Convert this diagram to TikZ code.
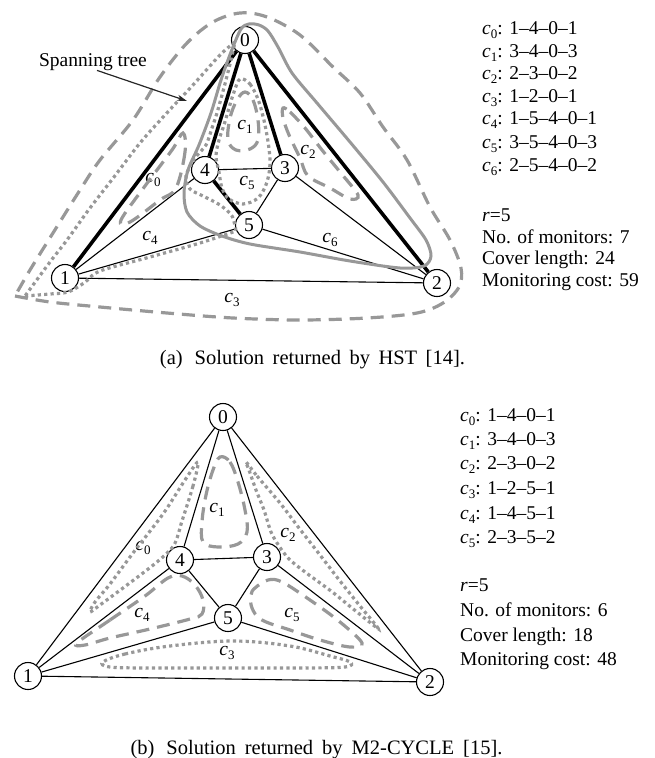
\documentclass[tikz,border=0pt]{standalone}
\usepackage{fontspec}
\setmainfont{Liberation Serif}
\usetikzlibrary{arrows.meta}
\definecolor{loopgray}{RGB}{152,152,152}
\newcommand{\csub}[1]{\textit{c}\raisebox{-3.5pt}{\fontsize{13}{13}\selectfont #1}}
\begin{document}
\begin{tikzpicture}[x=1pt,y=-1pt,
  font=\fontsize{19.5}{23}\selectfont,
  vtx/.style={circle,draw,fill=white,line width=1.1pt,minimum size=27pt,inner sep=0pt},
  lnk/.style={line width=1.1pt},
  trk/.style={line width=3.6pt},
  lbl/.style={inner sep=0pt},
  txt/.style={anchor=base west,inner sep=0pt},
  captxt/.style={anchor=base,inner sep=0pt,font=\fontsize{20.5}{24}\selectfont},
  gl/.style={draw=loopgray,line width=3.2pt},
  dsh/.style={gl,dash pattern=on 13pt off 8pt},
  dtt/.style={gl,dash pattern=on 3.2pt off 3.2pt},
  sld/.style={gl,line width=3pt},
  arr/.style={-{Stealth[length=10pt,width=6pt]},line width=1.2pt,draw=black!85},
]
\useasboundingbox (0,0) rectangle (654,758);

% ================= (a) =================
\node[vtx] (a0) at (245,40) {0};
\node[vtx] (a1) at (65,278) {1};
\node[vtx] (a2) at (437,283) {2};
\node[vtx] (a3) at (285,168) {3};
\node[vtx] (a4) at (205,170) {4};
\node[vtx] (a5) at (249,225) {5};

\draw[trk] (a0) -- (a1);
\draw[trk] (a0) -- (a4);
\draw[trk] (a0) -- (a3);
\draw[trk] (a0) -- (a2);
\draw[trk] (a4) -- (a5);
\draw[lnk] (a4) -- (a3);
\draw[lnk] (a3) -- (a5);
\draw[lnk] (a1) -- (a4);
\draw[lnk] (a1) -- (a5);
\draw[lnk] (a5) -- (a2);
\draw[lnk] (a3) -- (a2);
\draw[lnk] (a1) -- (a2);

\node[lbl] (la0) at (153,180) {\csub{0}};
\node[lbl] (la1) at (245,127) {\csub{1}};
\node[lbl] (la2) at (308,152) {\csub{2}};
\node[lbl] (la3) at (232,300) {\csub{3}};
\node[lbl] (la4) at (150,238) {\csub{4}};
\node[lbl] (la5) at (247,183) {\csub{5}};
\node[lbl] (la6) at (330,240) {\csub{6}};

% c3 outer dashed
\draw[dsh] plot[smooth,tension=0.55] coordinates {(15,296) (50,302) (100,307) (167,313) (233,318) (300,320) (367,318) (417,313) (443,303) (459,287) (461,268) (450,240) (430,207) (407,160) (383,127) (360,93) (333,67) (300,35) (267,17) (240,13) (213,22) (187,43) (160,77) (133,120) (100,160) (80,190) (53,233) (30,270) (15,296)};
% c4 dotted
\draw[dtt] plot[smooth,tension=0.5] coordinates {(25,296) (50,294) (68,292) (84,283) (100,271) (150,257) (200,243) (236,231)}
  -- plot[smooth,tension=0.5] coordinates {(236,231) (232,216) (220,205) (203,196) (190,189) (186,176) (195,158) (206,145) (212,128) (217,113) (222,95) (226,80) (231,60) (235,42)}
  -- plot[smooth,tension=0.5] coordinates {(235,42) (220,55) (193,85) (165,115) (140,143) (114,177) (90,208) (67,240) (50,262) (25,296)};
% c0 dashed
\draw[dsh] plot[smooth cycle,tension=0.6] coordinates {(183,133) (185,152) (176,188) (160,200) (130,222) (121,220) (145,186) (172,150)};
% c1 dashed
\draw[dsh] plot[smooth cycle,tension=0.6] coordinates {(245,92) (253,100) (258,120) (258,140) (250,149) (236,150) (228,140) (230,118) (237,100)};
% c5 dotted
\draw[dtt] plot[smooth cycle,tension=0.55] coordinates {(240,79) (250,84) (259,102) (266,130) (270,160) (267,182) (258,198) (243,204) (229,199) (222,188) (219,172) (216,156) (219,140) (224,125) (229,108) (234,92)};
% c2 dashed
\draw[dsh] plot[smooth cycle,tension=0.55] coordinates {(283,108) (290,112) (305,128) (322,150) (340,172) (358,195) (350,199) (330,188) (308,176) (300,158) (289,135) (283,118)};
% c6 solid
\draw[sld] plot[smooth cycle,tension=0.5] coordinates {(241,29) (249,24) (259,25) (268,31) (278,47) (292,73) (317,103) (350,142) (383,182) (410,218) (426,240) (431,256) (424,266) (400,268) (350,261) (300,252) (250,244) (222,236) (200,226) (187,212) (184,193) (188,170) (199,145) (211,113) (221,80) (231,52)};

\node[anchor=base,inner sep=0pt] (st) at (93,66) {Spanning tree};
\coordinate (sttip) at (187,101);
\draw[arr] ([xshift=4pt]st.south) -- (sttip);

\node[txt] (ta0) at (482,34.5) {\csub{0}: 1–4–0–1};
\node[txt] (ta1) at (482,57.5) {\csub{1}: 3–4–0–3};
\node[txt] (ta2) at (482,79.5) {\csub{2}: 2–3–0–2};
\node[txt] (ta3) at (482,102.5) {\csub{3}: 1–2–0–1};
\node[txt] (ta4) at (482,124.5) {\csub{4}: 1–5–4–0–1};
\node[txt] (ta5) at (482,148.5) {\csub{5}: 3–5–4–0–3};
\node[txt] (ta6) at (482,171.5) {\csub{6}: 2–5–4–0–2};
\node[txt] (ra0) at (482,221.5) {\textit{r}=5};
\node[txt] (ra1) at (482,243.5) {No. of monitors: 7};
\node[txt] (ra2) at (482,264.5) {Cover length: 24};
\node[txt] (ra3) at (482,286.5) {Monitoring cost: 59};

\node[captxt] (capa) at (312.5,364) {\spaceskip=8.5pt\relax(a)\hspace{12pt}Solution returned by HST [14].};

% ================= (b) =================
\node[vtx] (b0) at (223,417) {0};
\node[vtx] (b1) at (28,676) {1};
\node[vtx] (b2) at (430,682) {2};
\node[vtx] (b3) at (267,557) {3};
\node[vtx] (b4) at (180,560) {4};
\node[vtx] (b5) at (228,618) {5};

\draw[lnk] (b0) -- (b1);
\draw[lnk] (b0) -- (b4);
\draw[lnk] (b0) -- (b3);
\draw[lnk] (b0) -- (b2);
\draw[lnk] (b4) -- (b3);
\draw[lnk] (b4) -- (b5);
\draw[lnk] (b3) -- (b5);
\draw[lnk] (b1) -- (b4);
\draw[lnk] (b1) -- (b5);
\draw[lnk] (b5) -- (b2);
\draw[lnk] (b3) -- (b2);
\draw[lnk] (b1) -- (b2);

\node[lbl] (lb0) at (143,548) {\csub{0}};
\node[lbl] (lb1) at (217,510) {\csub{1}};
\node[lbl] (lb2) at (288,535) {\csub{2}};
\node[lbl] (lb3) at (227,653) {\csub{3}};
\node[lbl] (lb4) at (142,615) {\csub{4}};
\node[lbl] (lb5) at (292,615) {\csub{5}};

% c1 dashed
\draw[dsh] plot[smooth cycle,tension=0.6] coordinates {(220,457) (230,462) (238,482) (245,510) (247,532) (238,544) (218,547) (203,542) (202,522) (206,495) (213,470)};
% c0 dotted
\draw[dtt] plot[smooth cycle,tension=0.5] coordinates {(198,462) (193,486) (182,521) (174,545) (157,562) (127,585) (100,605) (90,612) (95,602) (110,584) (133,553) (163,514) (185,480)};
% c2 dotted
\draw[dtt] plot[smooth cycle,tension=0.5] coordinates {(246,462) (257,476) (280,503) (299,528) (320,555) (340,581) (360,606) (378,628) (372,624) (352,608) (331,591) (305,572) (289,559) (279,546) (271,532) (264,510) (256,490) (249,470)};
% c4 dashed
\draw[dsh] plot[smooth cycle,tension=0.6] coordinates {(77,643) (110,620) (145,596) (168,578) (182,576) (195,585) (203,600) (202,614) (190,619) (150,629) (110,638) (85,645)};
% c5 dashed
\draw[dsh] plot[smooth cycle,tension=0.6] coordinates {(255,588) (268,580) (282,582) (310,600) (340,622) (362,643) (350,647) (320,640) (290,630) (262,620) (252,608) (251,595)};
% c3 dotted
\draw[dtt] plot[smooth cycle,tension=0.6] coordinates {(103,662) (125,654) (170,646) (233,641) (290,646) (330,656) (350,662) (345,667) (300,668) (230,668) (150,668) (110,667)};

\node[txt] (tb0) at (460,421.5) {\csub{0}: 1–4–0–1};
\node[txt] (tb1) at (460,445.5) {\csub{1}: 3–4–0–3};
\node[txt] (tb2) at (460,469.5) {\csub{2}: 2–3–0–2};
\node[txt] (tb3) at (460,494.5) {\csub{3}: 1–2–5–1};
\node[txt] (tb4) at (460,519.5) {\csub{4}: 1–4–5–1};
\node[txt] (tb5) at (460,543.5) {\csub{5}: 2–3–5–2};
\node[txt] (rb0) at (460,591.5) {\textit{r}=5};
\node[txt] (rb1) at (460,616.5) {No. of monitors: 6};
\node[txt] (rb2) at (460,641.5) {Cover length: 18};
\node[txt] (rb3) at (460,665.5) {Monitoring cost: 48};

\node[captxt] (capb) at (316.5,754) {\spaceskip=9pt\relax(b)\hspace{12pt}Solution returned by M2-CYCLE [15].};
\end{tikzpicture}
\end{document}
